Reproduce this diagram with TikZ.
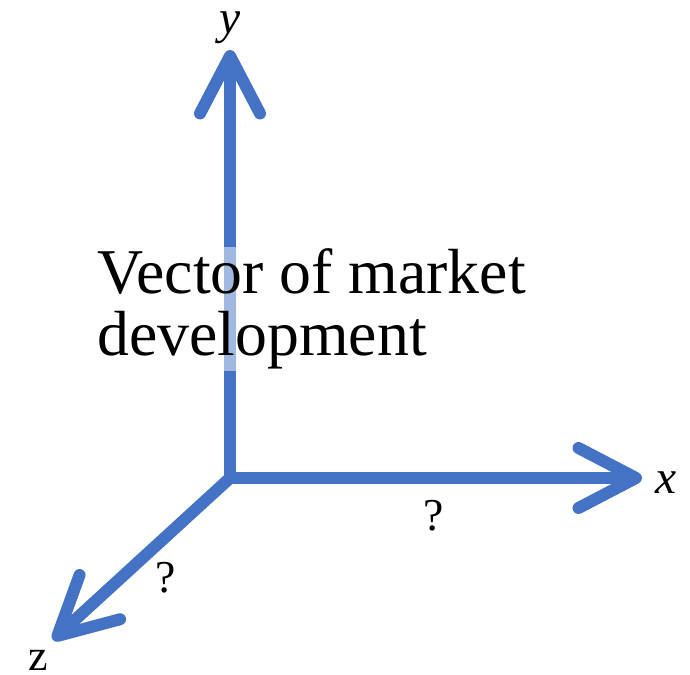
\documentclass[tikz,border=0pt]{standalone}
\usepackage{fontspec}
\setmainfont{Liberation Serif}
\usetikzlibrary{arrows.meta}
\definecolor{axisblue}{HTML}{4472C4}
\begin{document}
\begin{tikzpicture}[x=0.02cm, y=0.02cm,
    axis/.style={draw=axisblue, line width=0.24cm, -{Straight Barb[length=1.15cm, width=1.2cm, round]}},
    axislabel/.style={font=\fontsize{27}{30}\selectfont, inner sep=0pt},
    qlabel/.style={font=\fontsize{26}{30}\selectfont, inner sep=0pt}]
    \useasboundingbox (0,0) rectangle (690,675);

    % Origin and axis ends
    \coordinate (O) at (230,197);
    \coordinate (ytip) at (230,625);
    \coordinate (xtip) at (642,197);
    \coordinate (ztip) at (53,35);

    % Axes
    \draw[axis] (O) -- (ztip);
    \draw[axis] (O) -- (ytip);
    \draw[axis] (O) -- (xtip);

    % Axis names
    \node[axislabel] (ylab) at (230,647) {\textit{y}};
    \node[axislabel] (xlab) at (666,192) {\textit{x}};
    \node[font=\fontsize{25}{30}\selectfont, inner sep=0pt] (zlab) at (38,15) {z};

    % Unknown directions
    \node[qlabel] (qx) at (434,159) {?};
    \node[qlabel] (qz) at (166,97) {?};

    % Caption over the y axis
    \node[font=\fontsize{36.3}{35.4}\selectfont, align=left, anchor=west,
          fill=white, fill opacity=0.5, text opacity=1, inner sep=0.04cm] (vec) at (95,366)
          {Vector of market\\development};
\end{tikzpicture}
\end{document}
